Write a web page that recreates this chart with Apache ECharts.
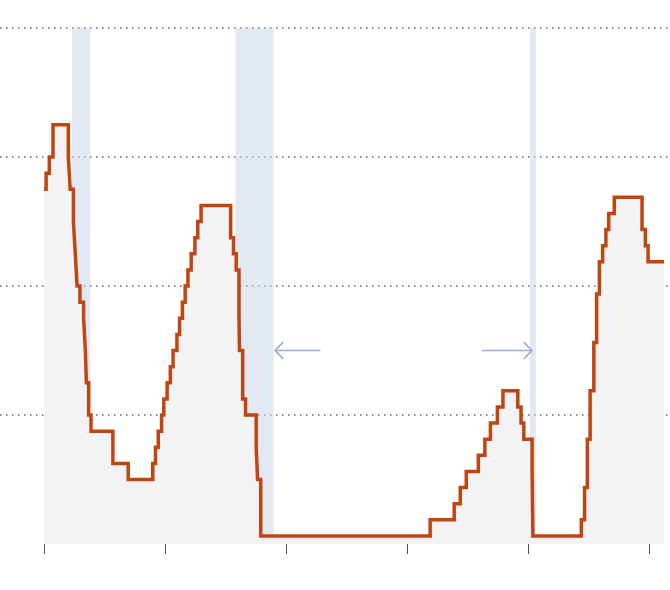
<!DOCTYPE html>
<html>
<head>
<meta charset="utf-8">
<script src="https://cdn.jsdelivr.net/npm/echarts@6/dist/echarts.min.js"></script>
<style>html,body{margin:0;padding:0;background:#fff}#c{width:670px;height:590px}</style>
</head>
<body>
<div id="c"></div>
<script>
// Rate change dates and new level (%)
const changeDates = ['2000-01-01','2000-02-02','2000-03-21','2000-05-16','2001-01-03','2001-01-31','2001-03-20','2001-04-18','2001-05-15','2001-06-27','2001-08-21','2001-09-17','2001-10-02','2001-11-06','2001-12-11','2002-11-06','2003-06-25','2004-06-30','2004-08-10','2004-09-21','2004-11-10','2004-12-14','2005-02-02','2005-03-22','2005-05-03','2005-06-30','2005-08-09','2005-09-20','2005-11-01','2005-12-13','2006-01-31','2006-03-28','2006-05-10','2006-06-29','2007-09-18','2007-10-31','2007-12-11','2008-01-22','2008-01-30','2008-03-18','2008-04-30','2008-10-08','2008-10-29','2008-12-16','2015-12-16','2016-12-14','2017-03-15','2017-06-14','2017-12-13','2018-03-21','2018-06-13','2018-09-26','2018-12-19','2019-07-31','2019-09-18','2019-10-30','2020-03-03','2020-03-15','2022-03-16','2022-05-04','2022-06-15','2022-07-27','2022-09-21','2022-11-02','2022-12-14','2023-02-01','2023-03-22','2023-05-03','2023-07-26','2024-09-18','2024-11-07','2024-12-18','2025-08-15'];
const rateValues = [5.5,5.75,6.0,6.5,6.0,5.5,5.0,4.5,4.0,3.75,3.5,3.0,2.5,2.0,1.75,1.25,1.0,1.25,1.5,1.75,2.0,2.25,2.5,2.75,3.0,3.25,3.5,3.75,4.0,4.25,4.5,4.75,5.0,5.25,4.75,4.5,4.25,3.5,3.0,2.25,2.0,1.5,1.0,0.125,0.375,0.625,0.875,1.125,1.375,1.625,1.875,2.125,2.375,2.125,1.875,1.625,1.125,0.125,0.375,0.875,1.625,2.375,3.125,3.875,4.375,4.625,4.875,5.125,5.375,4.875,4.625,4.375,4.375];
// Recession periods
const recessionStarts = ['2001-03-01','2007-12-01','2020-02-01'];
const recessionEnds   = ['2001-11-30','2009-06-30','2020-04-30'];
// Axis ticks
const tickYears = [2000,2005,2010,2015,2020,2025];
const yTicks = [0,2,4,6,8];

function fy(s){
  const p = s.split('-').map(Number);
  const start = Date.UTC(p[0],0,1), end = Date.UTC(p[0]+1,0,1);
  return p[0] + (Date.UTC(p[0],p[1]-1,p[2]) - start)/(end-start);
}
const seriesData = changeDates.map((d,i)=>[fy(d), rateValues[i]]);
const bands = recessionStarts.map((s,i)=>[{xAxis: fy(s)},{xAxis: fy(recessionEnds[i])}]);

// annotation arrows (data coordinates)
const arrowL = [[2009.88,3.13],[2009.55,3.0],[2009.88,2.87],'-',[2009.55,3.0],[2011.42,3.0]];
const arrowR = [[2019.83,3.13],[2020.16,3.0],[2019.83,2.87],'-',[2020.16,3.0],[2018.1,3.0]];

const pxPerYear = 24.2;
const xMin = 2000 - 44/pxPerYear;
const xMax = xMin + 670/pxPerYear;

const chart = echarts.init(document.getElementById('c'), null, {renderer:'canvas'});
chart.setOption({
  animation:false,
  grid:{left:0,right:0,top:28,bottom:46,containLabel:false},
  xAxis:{type:'value',min:xMin,max:xMax,offset:6,
    axisLine:{show:false},
    axisTick:{show:true,length:10,lineStyle:{color:'#555',width:1},customValues:tickYears},
    axisLabel:{show:false},
    splitLine:{show:false}},
  yAxis:{type:'value',min:yTicks[0],max:yTicks[yTicks.length-1],interval:2,
    axisLine:{show:false},axisTick:{show:false},axisLabel:{show:false},
    splitLine:{show:true,showMinLine:false,lineStyle:{color:'#666',width:1.5,type:[1.5,4.5]}}},
  series:[
    {type:'line',step:'end',data:seriesData,symbol:'none',z:1,
      lineStyle:{width:0},areaStyle:{color:'#f3f3f6',opacity:1}},
    {type:'line',data:[],z:2,symbol:'none',
      markArea:{silent:true,itemStyle:{color:'rgba(200,212,232,0.5)'},data:bands}},
    {type:'line',step:'end',data:seriesData,symbol:'none',z:3,
      lineStyle:{color:'#c2440f',width:3.5,join:'miter'}},
    {type:'line',data:arrowL,symbol:'none',z:4,connectNulls:false,
      lineStyle:{color:'#9fa8d0',width:1.6}},
    {type:'line',data:arrowR,symbol:'none',z:4,connectNulls:false,
      lineStyle:{color:'#9fa8d0',width:1.6}}
  ]
});
</script>
</body>
</html>
